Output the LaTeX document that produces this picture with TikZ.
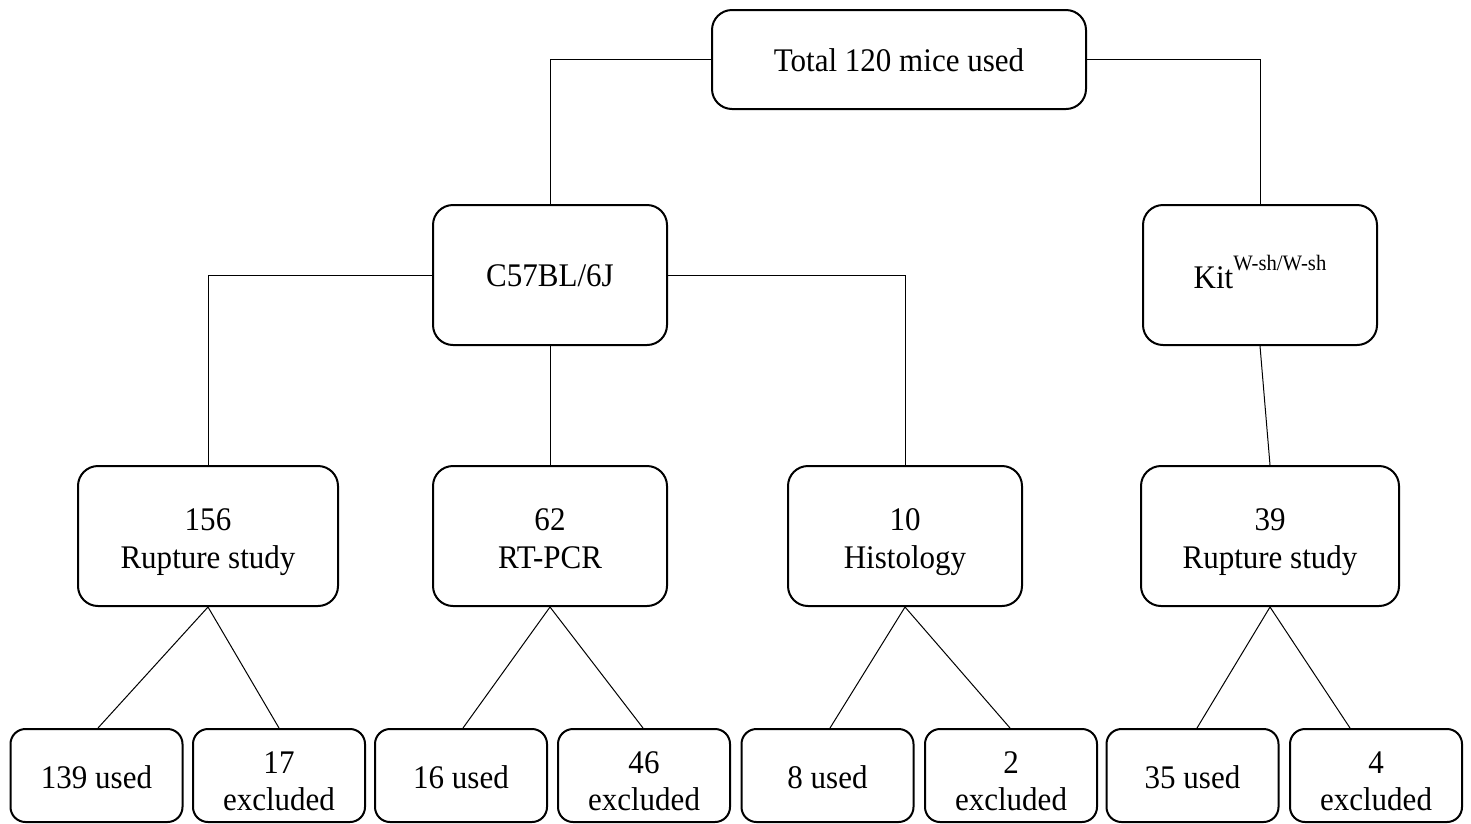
\documentclass[tikz,border=0pt]{standalone}
\usepackage{fontspec}
\setmainfont[FakeStretch=0.94]{Liberation Serif}
\begin{document}
\begin{tikzpicture}[x=1pt,y=-1pt,
  txt/.style={font=\fontsize{33}{38}\selectfont, inner sep=0pt, anchor=base},
  bigbox/.style={draw, line width=2pt, rounded corners=20pt, inner sep=0pt},
  smallbox/.style={draw, line width=2pt, rounded corners=15pt, inner sep=0pt, minimum width=172pt, minimum height=93pt},
  conn/.style={line width=1pt}]
\useasboundingbox[fill=white] (0,0) rectangle (1471,823);
% top
\node[bigbox, minimum width=374pt, minimum height=99pt] (top) at (899,59.5) {};
\node[txt] (topt) at ([yshift=-11.5pt]top.center) {Total 120 mice used};
% level 2
\node[bigbox, minimum width=234pt, minimum height=140pt] (c57) at (550,275) {};
\node[txt] (c57t) at ([yshift=-11pt]c57.center) {C57BL/6J};
\node[bigbox, minimum width=234pt, minimum height=140pt] (kit) at (1260,275) {};
\node[txt] (kitt) at ([yshift=-13pt]kit.center) {Kit\raisebox{18pt}{\fontsize{22}{24}\selectfont W-sh/W-sh}};
% level 3
\node[bigbox, minimum width=260pt, minimum height=140pt] (r156) at (208,536) {};
\node[txt] (r156a) at ([yshift=6pt]r156.center) {156};
\node[txt] (r156b) at ([yshift=-32pt]r156.center) {Rupture study};
\node[bigbox, minimum width=234pt, minimum height=140pt] (rt) at (550,536) {};
\node[txt] (rta) at ([yshift=6pt]rt.center) {62};
\node[txt] (rtb) at ([yshift=-32pt]rt.center) {RT-PCR};
\node[bigbox, minimum width=234pt, minimum height=140pt] (hist) at (905,536) {};
\node[txt] (hista) at ([yshift=6pt]hist.center) {10};
\node[txt] (histb) at ([yshift=-32pt]hist.center) {Histology};
\node[bigbox, minimum width=258pt, minimum height=140pt] (r39) at (1270,536) {};
\node[txt] (r39a) at ([yshift=6pt]r39.center) {39};
\node[txt] (r39b) at ([yshift=-32pt]r39.center) {Rupture study};
% level 4
\node[smallbox] (a1) at (96.5,775.5) {};
\node[txt] (a1t) at ([yshift=-12.5pt]a1.center) {139 used};
\node[smallbox] (a2) at (279,775.5) {};
\node[txt] (a2a) at ([yshift=2.5pt]a2.center) {17};
\node[txt] (a2b) at ([yshift=-34.5pt]a2.center) {excluded};
\node[smallbox] (b1) at (461,775.5) {};
\node[txt] (b1t) at ([yshift=-12.5pt]b1.center) {16 used};
\node[smallbox] (b2) at (644,775.5) {};
\node[txt] (b2a) at ([yshift=2.5pt]b2.center) {46};
\node[txt] (b2b) at ([yshift=-34.5pt]b2.center) {excluded};
\node[smallbox] (c1) at (827.5,775.5) {};
\node[txt] (c1t) at ([yshift=-12.5pt]c1.center) {8 used};
\node[smallbox] (c2) at (1011,775.5) {};
\node[txt] (c2a) at ([yshift=2.5pt]c2.center) {2};
\node[txt] (c2b) at ([yshift=-34.5pt]c2.center) {excluded};
\node[smallbox] (d1) at (1192.5,775.5) {};
\node[txt] (d1t) at ([yshift=-12.5pt]d1.center) {35 used};
\node[smallbox] (d2) at (1376,775.5) {};
\node[txt] (d2a) at ([yshift=2.5pt]d2.center) {4};
\node[txt] (d2b) at ([yshift=-34.5pt]d2.center) {excluded};
% connectors
\draw[conn] (top.west) -| (c57.north);
\draw[conn] (top.east) -| (kit.north);
\draw[conn] (c57.west) -| (r156.north);
\draw[conn] (c57.east) -| (hist.north);
\draw[conn] (c57.south) -- (rt.north);
\draw[conn] (kit.south) -- (r39.north);
\draw[conn] ([xshift=1.5pt]a1.north) -- (r156.south) -- (a2.north);
\draw[conn] ([xshift=2pt]b1.north) -- (rt.south) -- ([xshift=-1pt]b2.north);
\draw[conn] ([xshift=2.5pt]c1.north) -- (hist.south) -- ([xshift=-1pt]c2.north);
\draw[conn] ([xshift=4.5pt]d1.north) -- (r39.south) -- ([xshift=-26pt]d2.north);
\end{tikzpicture}
\end{document}
